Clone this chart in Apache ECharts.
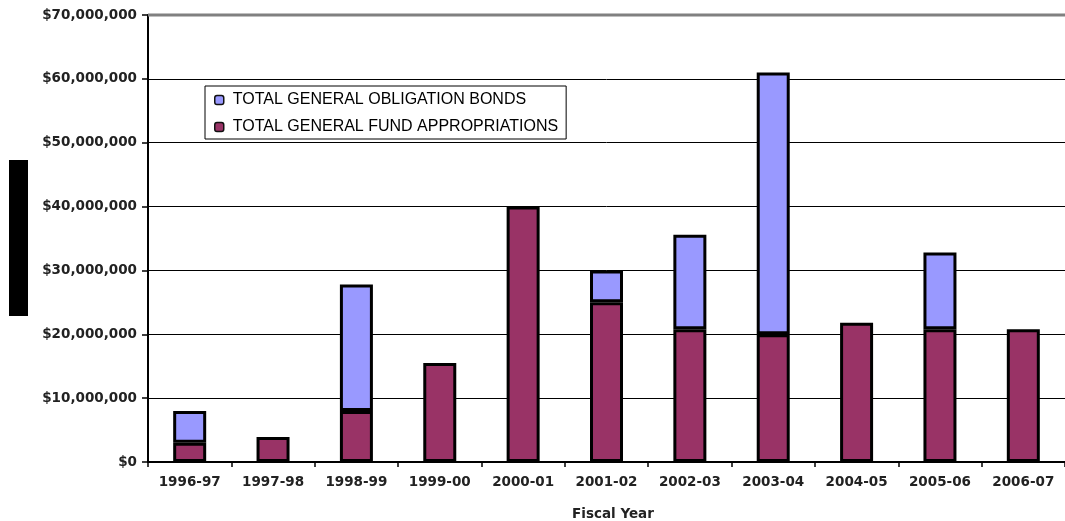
<!DOCTYPE html>
<html>
<head>
<meta charset="utf-8">
<script src="https://cdn.jsdelivr.net/npm/echarts@6/dist/echarts.min.js"></script>
<style>html,body{margin:0;padding:0;background:#fff}#c{width:1065px;height:521px}</style>
</head>
<body>
<div id="c"></div>
<script>
const categories = ['1996-97','1997-98','1998-99','1999-00','2000-01','2001-02','2002-03','2003-04','2004-05','2005-06','2006-07'];
const generalFund = [3000000, 3900000, 8000000, 15500000, 40000000, 25000000, 20800000, 20000000, 21800000, 20800000, 20800000];
const goBonds = [5000000, 0, 19800000, 0, 0, 5000000, 14800000, 41000000, 0, 12000000, 0];
const yTicks = [0, 10000000, 20000000, 30000000, 40000000, 50000000, 60000000, 70000000];
const seriesNames = ['TOTAL GENERAL OBLIGATION BONDS', 'TOTAL GENERAL FUND APPROPRIATIONS'];
const xTitle = 'Fiscal Year';

const chart = echarts.init(document.getElementById('c'), null, {renderer: 'canvas'});
const fmt = v => '$' + v.toLocaleString('en-US');
const labelFont = 'DejaVu Sans, sans-serif';
chart.setOption({
  animation: false,
  backgroundColor: '#fff',
  grid: {left: 148, right: 0, top: 15, bottom: 59, containLabel: false, outerBoundsMode: 'none'},
  legend: {
    data: seriesNames,
    orient: 'vertical',
    left: 205, top: 86,
    padding: [6, 8, 4, 9],
    itemGap: 11,
    itemWidth: 9, itemHeight: 9,
    borderColor: '#000', borderWidth: 1,
    backgroundColor: '#fff',
    textStyle: {fontSize: 16, color: '#000', fontFamily: 'Liberation Sans, Arial, sans-serif', padding: [0,0,0,4]},
    itemStyle: {borderColor: '#111', borderWidth: 1.5}
  },
  xAxis: {
    type: 'category',
    data: categories,
    boundaryGap: true,
    axisLine: {lineStyle: {color: '#000', width: 2}},
    axisTick: {show: true, length: 5, lineStyle: {color: '#000', width: 1.5}},
    axisLabel: {fontSize: 13.5, fontWeight: 'bold', color: '#222', margin: 13, fontFamily: labelFont}
  },
  yAxis: {
    type: 'value',
    min: 0, max: 70000000, interval: 10000000,
    axisLine: {show: true, lineStyle: {color: '#000', width: 2}},
    axisTick: {show: true, length: 6, lineStyle: {color: '#000', width: 1.5}},
    axisLabel: {fontSize: 13.5, fontWeight: 'bold', color: '#222', margin: 11, fontFamily: labelFont,
      formatter: v => yTicks.includes(v) ? fmt(v) : ''},
    splitLine: {show: true, lineStyle: {color: '#000', width: 1}}
  },
  series: [
    {
      name: seriesNames[1], type: 'bar', stack: 'total', data: generalFund.map(v => v || '-'),
      barWidth: 33,
      itemStyle: {color: '#993366', borderColor: '#000', borderWidth: 3}
    },
    {
      name: seriesNames[0], type: 'bar', stack: 'total', data: goBonds.map(v => v || '-'),
      barWidth: 33,
      itemStyle: {color: '#9999FF', borderColor: '#000', borderWidth: 3}
    }
  ],
  graphic: [
    {type: 'rect', left: 9, top: 160, shape: {width: 19, height: 156}, style: {fill: '#000'}},
    {type: 'line', shape: {x1: 148, y1: 15, x2: 1065, y2: 15}, style: {stroke: '#808080', lineWidth: 3}, z: 100},
    {type: 'text', x: 613, y: 514, style: {text: xTitle, font: 'bold 13.5px DejaVu Sans, sans-serif', fill: '#222', textAlign: 'center', textVerticalAlign: 'middle'}}
  ]
});
</script>
</body>
</html>
